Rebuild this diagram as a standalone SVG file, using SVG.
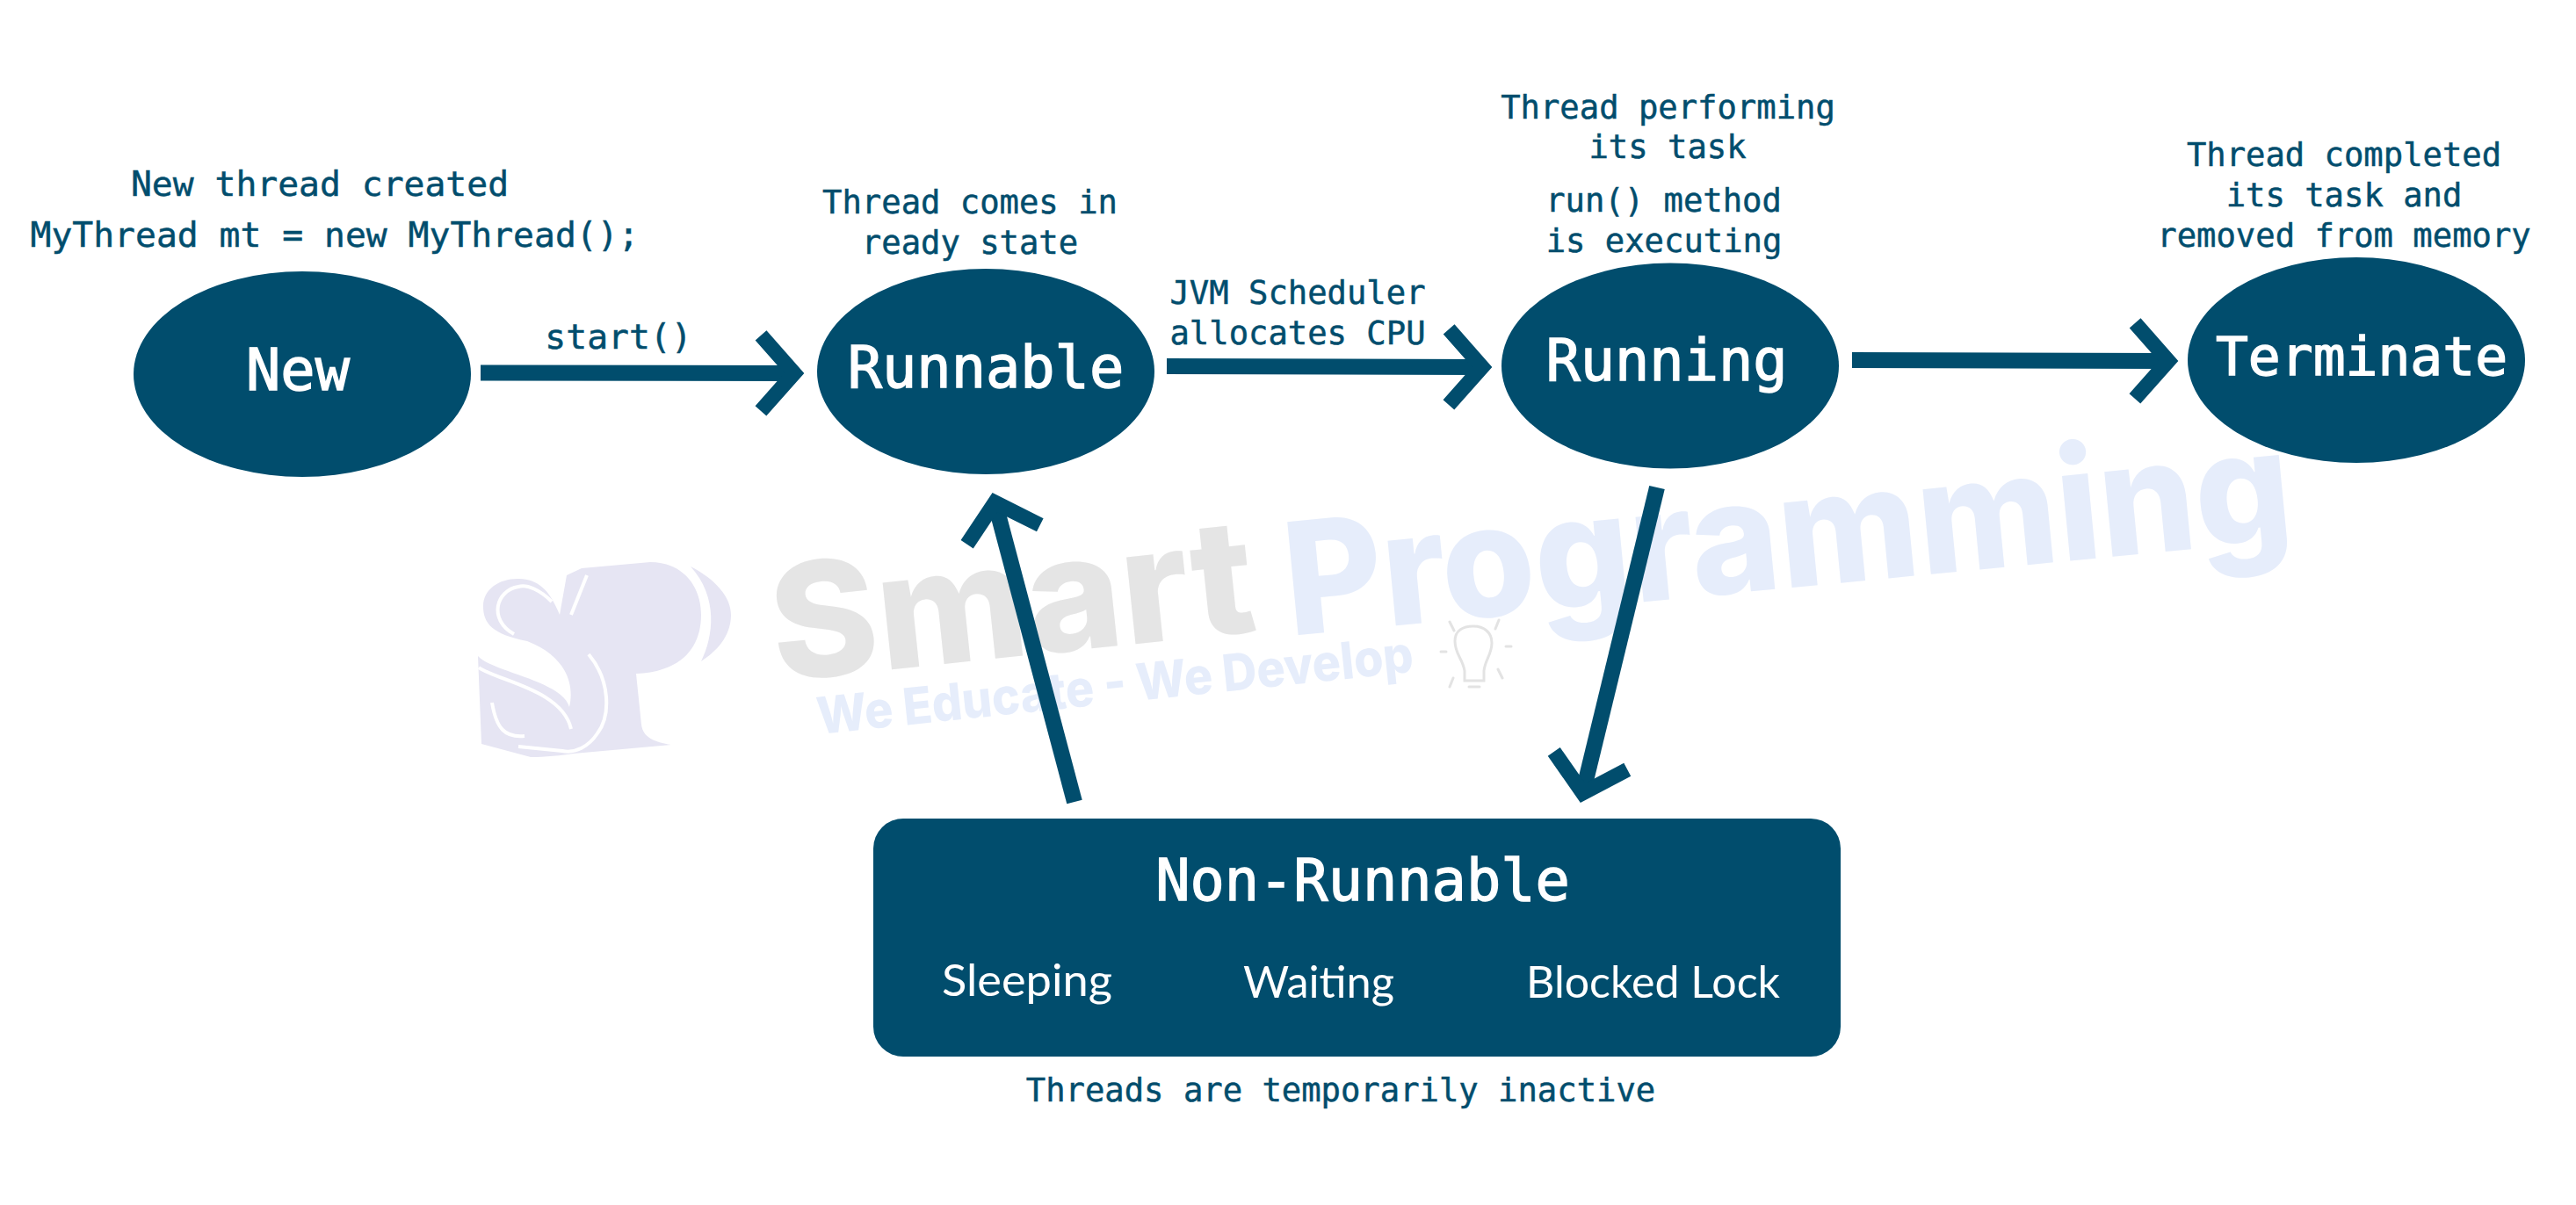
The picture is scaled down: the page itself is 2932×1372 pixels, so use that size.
<svg xmlns="http://www.w3.org/2000/svg" width="2932" height="1372" viewBox="0 0 2932 1372">
<style>
.state{fill:#014d6d}
.big{font:65.3px "DejaVu Sans Mono","Liberation Mono",monospace;fill:#fff;stroke:#fff;stroke-width:1.4;text-anchor:middle}
.note{font:37.2px "DejaVu Sans Mono","Liberation Mono",monospace;fill:#014d6d;stroke:#014d6d;stroke-width:.5;text-anchor:middle}
.lg{font-size:39.7px}
.sub{font:51px Lato,"Noto Sans",sans-serif;fill:#fff}
.conn{fill:none;stroke:#014d6d;stroke-width:18;marker-end:url(#chev)}
.wm{font-family:Inter,"Liberation Sans",Arial,sans-serif;font-weight:800}
.sw{fill:none;stroke:#fff;stroke-width:4}
.bulb{fill:none;stroke:#e3e3e3;stroke-width:3;stroke-linecap:round}
</style>
<defs>
<marker id="chev" markerUnits="userSpaceOnUse" markerWidth="130" markerHeight="130" viewBox="-80 -65 130 130" refX="0" refY="0" orient="auto" overflow="visible">
<path d="M-36,-43 L2,0 L-36,43" fill="none" stroke="#014d6d" stroke-width="17"/>
</marker>
</defs>
<rect width="2932" height="1372" fill="#fff"/>
<g id="watermark">
<path fill="#e6e5f3" d="M662,647 L740,640 C778,640 798,668 798,700 C798,738 775,765 724,767 L730,825 C732,840 745,845 764,848 L653,858 C640,860 620,862 604,862 L548,847 L544,747 C560,765 640,775 648,805 C655,775 640,745 600,730 C560,722 550,710 550,690 C550,670 570,658 591,659 C612,660 625,670 637,700 L645,655 Z"/>
<path fill="#e6e5f3" d="M786,645 C815,660 832,680 832,700 C832,725 815,742 798,753 C812,725 818,680 786,645 Z"/>
<path class="sw" d="M628,685 C615,672 600,665 590,668 C565,672 555,705 585,722"/>
<path class="sw" d="M545,760 C565,775 640,785 650,830"/>
<path class="sw" d="M560,800 C565,830 575,840 597,838"/>
<path class="sw" d="M670,745 C695,775 695,815 680,835 C670,850 655,858 640,855 L590,850"/>
<path class="sw" d="M668,655 L650,700"/>
<text class="wm" font-size="182" fill="#e5e5e5" transform="translate(884,776) rotate(-6)" textLength="552" lengthAdjust="spacingAndGlyphs">Smart</text>
<text class="wm" font-size="178" fill="#e6edfb" transform="translate(1468,724) rotate(-5.5)" textLength="1150" lengthAdjust="spacingAndGlyphs">Programming</text>
<text class="wm" font-size="58" fill="#e6edfb" transform="translate(932,836) rotate(-6)" textLength="682" lengthAdjust="spacingAndGlyphs">We Educate - We Develop</text>
<path class="bulb" d="M1667,764 C1665,750 1656,745 1656,730 C1656,718 1665,713 1677,713 C1689,713 1698,720 1698,732 C1698,745 1690,752 1689,764 L1689,775 L1667,775 Z"/>
<path class="bulb" d="M1650,708 L1655,718 M1706,706 L1702,716 M1640,742 L1646,742 M1714,736 L1720,736 M1654,772 L1650,782 M1705,762 L1710,772 M1672,782 L1684,782"/>
</g>
<g id="connectors">
<path class="conn" d="M547,424.5 L902,425"/>
<path class="conn" d="M1328,417 L1685,418"/>
<path class="conn" d="M2108,410 L2466,411"/>
<path class="conn" d="M1223,913 L1133,574"/>
<path class="conn" d="M1886,555 L1802,901"/>
</g>
<g id="node-new">
<ellipse class="state" cx="344" cy="426" rx="192" ry="117"/>
<text class="big" x="339" y="444">New</text>
</g>
<g id="node-runnable">
<ellipse class="state" cx="1122" cy="423" rx="192" ry="117"/>
<text class="big" x="1122" y="441">Runnable</text>
</g>
<g id="node-running">
<ellipse class="state" cx="1901" cy="416.5" rx="192" ry="117"/>
<text class="big" x="1897" y="433">Running</text>
</g>
<g id="node-terminate">
<ellipse class="state" cx="2682" cy="410" rx="192" ry="117"/>
<text class="big" x="2688" y="427" style="font-size:61.3px">Terminate</text>
</g>
<g id="node-non-runnable">
<rect class="state" x="994" y="932" width="1101" height="271" rx="34"/>
<text class="big" x="1551" y="1025">Non-Runnable</text>
<text class="sub" x="1072" y="1134" textLength="194" lengthAdjust="spacingAndGlyphs">Sleeping</text>
<text class="sub" x="1415" y="1136" textLength="172" lengthAdjust="spacingAndGlyphs">Waiting</text>
<text class="sub" x="1737" y="1136" textLength="289" lengthAdjust="spacingAndGlyphs">Blocked Lock</text>
</g>
<g id="labels">
<text class="note lg" x="364" y="223">New thread created</text>
<text class="note lg" x="381" y="281">MyThread mt = new MyThread();</text>
<text class="note lg" x="704" y="397">start()</text>
<text class="note" x="1104" y="242.5">Thread comes in</text>
<text class="note" x="1104" y="288.5">ready state</text>
<text class="note" x="1477" y="346">JVM Scheduler</text>
<text class="note" x="1477" y="392">allocates CPU</text>
<text class="note" x="1898.500" y="134.500">Thread performing</text>
<text class="note" x="1898" y="180">its task</text>
<text class="note" x="1893.500" y="240.500">run() method</text>
<text class="note" x="1894" y="286.500">is executing</text>
<text class="note" x="2668" y="188.500">Thread completed</text>
<text class="note" x="2668" y="234.500">its task and</text>
<text class="note" x="2668" y="280.500">removed from memory</text>
<text class="note" x="1526" y="1254">Threads are temporarily inactive</text>
</g>
</svg>
